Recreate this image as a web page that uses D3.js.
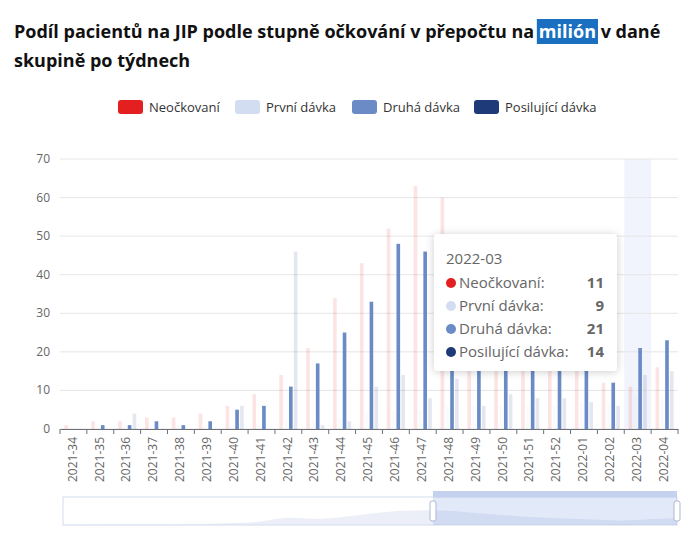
<!DOCTYPE html><html><head><meta charset="utf-8"><script src="https://cdn.jsdelivr.net/npm/d3@7"></script>
<style>body{margin:0;background:#fff;font-family:"Source Sans Pro","Open Sans",sans-serif}</style></head><body><svg id="c" width="700" height="537"></svg>
<script>
const weeks=["2021-34","2021-35","2021-36","2021-37","2021-38","2021-39","2021-40","2021-41","2021-42","2021-43","2021-44","2021-45","2021-46","2021-47","2021-48","2021-49","2021-50","2021-51","2021-52","2022-01","2022-02","2022-03","2022-04"];
const neockovani=[1,2,2,3,3,4,6,9,14,21,34,43,52,63,60,50,40,30,22,18,12,11,16];
const prvni=[0,0,1,1,1,1,1,1,2,2,3,4,5,5,6,6,6,6,6,7,7,9,8];
const druha=[0,1,1,2,1,2,5,6,11,17,25,33,48,46,40,32,26,22,20,18,12,21,23];
const posil=[0,0,4,0,0,0,6,0,46,1,2,11,14,8,13,6,9,8,8,7,6,14,15];
const yTicks=[0,10,20,30,40,50,60,70];
const names=["Neočkovaní","První dávka","Druhá dávka","Posilující dávka"];
const colors=["#e3201f","#d3ddf1","#6a8bc5","#1e3a78"];
const series=[neockovani,prvni,druha,posil];
const hi=2, hoverIdx=21;
const svg=d3.select("#c");
const hlRect=svg.append("rect").attr("y",19).attr("height",25).attr("fill","#1a6fc0");
const t=svg.append("text").attr("x",14).attr("y",38).attr("font-size",18).attr("font-weight",700).attr("fill","#111").attr("xml:space","preserve");
t.append("tspan").text("Podíl pacientů na JIP podle stupně očkování v přepočtu na ");
const m=t.append("tspan").attr("fill","#fff").text("milión");
t.append("tspan").text(" v dané");
svg.append("text").attr("x",14).attr("y",67).attr("font-size",18).attr("font-weight",700).attr("fill","#111").text("skupině po týdnech");
{const n=m.node(); const sx=n.getStartPositionOfChar(0).x; const w=n.getComputedTextLength(); hlRect.attr("x",sx-2).attr("width",w+4);}
const lg=[[118,"Neočkovaní"],[235,"První dávka"],[352,"Druhá dávka"],[474,"Posilující dávka"]];
lg.forEach((d,i)=>{svg.append("rect").attr("x",d[0]).attr("y",100).attr("width",25).attr("height",14).attr("rx",3).attr("fill",colors[i]);
svg.append("text").attr("x",d[0]+31).attr("y",112).attr("font-size",13).attr("fill","#333").text(d[1]);});
const x=d3.scaleBand().domain(weeks).range([60,678]).paddingInner(0).paddingOuter(0);
const y=d3.scaleLinear().domain([0,70]).range([429,159]);
svg.append("rect").attr("x",x(weeks[hoverIdx])).attr("y",159).attr("width",x.bandwidth()).attr("height",270).attr("fill","#eef1fb").attr("opacity",0.8);
yTicks.forEach(v=>{svg.append("line").attr("x1",60).attr("x2",678).attr("y1",y(v)).attr("y2",y(v)).attr("stroke","#e6e6e6");
svg.append("text").attr("x",50).attr("y",y(v)+4).attr("text-anchor","end").attr("font-size",12).attr("fill","#666").text(v);});
const sub=d3.scaleBand().domain([0,1,2,3]).range([0,x.bandwidth()]).paddingInner(0.25).paddingOuter(0.9);
series.forEach((s,k)=>{svg.append("g").selectAll("rect").data(s).join("rect")
 .attr("x",(d,i)=>x(weeks[i])+sub(k)).attr("width",sub.bandwidth()).attr("y",d=>y(d)).attr("height",d=>429-y(d))
 .attr("fill",colors[k]).attr("opacity",k==hi?1:0.12);});
const ax=svg.append("g").attr("transform","translate(0,429)").call(d3.axisBottom(x).tickSize(5).tickSizeOuter(0));
ax.select(".domain").attr("stroke","#6e7079");ax.selectAll("line").attr("stroke","#6e7079");
ax.selectAll(".tick line").attr("transform",d=>`translate(${-x.bandwidth()/2},0)`);
ax.selectAll("text").attr("font-size",12).attr("fill","#666").attr("font-family","Open Sans,sans-serif").attr("transform","rotate(-90)").attr("text-anchor","end").attr("dy",0).attr("y",0).attr("x",-8).style("dominant-baseline","middle");
ax.append("line").attr("x1",678).attr("x2",678).attr("y1",0).attr("y2",5).attr("stroke","#6e7079");
const sx0=63,sx1=677,sy0=497,sy1=525;
svg.append("rect").attr("x",sx0).attr("y",sy0).attr("width",sx1-sx0).attr("height",sy1-sy0).attr("fill","none").attr("stroke","#d2dbee");
const xs=d3.scalePoint().domain(weeks).range([sx0,sx1]);
const tot=weeks.map((w,i)=>neockovani[i]+druha[i]+posil[i]);
const ys=d3.scaleLinear().domain([0,d3.max(tot)*1.6]).range([sy1,sy0+4]);
const ar=d3.area().x((d,i)=>xs(weeks[i])).y0(sy1).y1(d=>ys(d)).curve(d3.curveBasis);
svg.append("path").attr("d",ar(tot)).attr("fill","#d9e0ef").attr("opacity",0.5);
svg.append("rect").attr("x",433).attr("y",sy0).attr("width",sx1-433).attr("height",sy1-sy0).attr("fill","#3c6fd8").attr("opacity",0.15);
svg.append("rect").attr("x",433).attr("y",sy0-6).attr("width",sx1-433).attr("height",6).attr("fill","#c5d2ef");
[433,677].forEach(h=>svg.append("rect").attr("x",h-3).attr("y",501).attr("width",6).attr("height",20).attr("rx",2).attr("fill","#fff").attr("stroke","#acb8d1"));
svg.append("defs").html('<filter id="sh" x="-20%" y="-20%" width="140%" height="140%"><feDropShadow dx="0" dy="1" stdDeviation="4" flood-color="#000" flood-opacity="0.2"/></filter>');
const tg=svg.append("g").attr("transform","translate(434,234)");
tg.append("rect").attr("width",183).attr("height",137).attr("rx",4).attr("fill","#fff").attr("filter","url(#sh)");
tg.append("text").attr("x",12).attr("y",30).attr("font-size",15).attr("fill","#666").text(weeks[hoverIdx]);
series.forEach((s,k)=>{const yy=54+k*23;
tg.append("circle").attr("cx",17).attr("cy",yy-5).attr("r",5).attr("fill",colors[k]);
tg.append("text").attr("x",25).attr("y",yy).attr("font-size",15).attr("fill","#666").text(names[k]+":");
tg.append("text").attr("x",170).attr("y",yy).attr("text-anchor","end").attr("font-size",15).attr("font-weight",700).attr("fill","#666").text(s[hoverIdx]);});
</script></body></html>
